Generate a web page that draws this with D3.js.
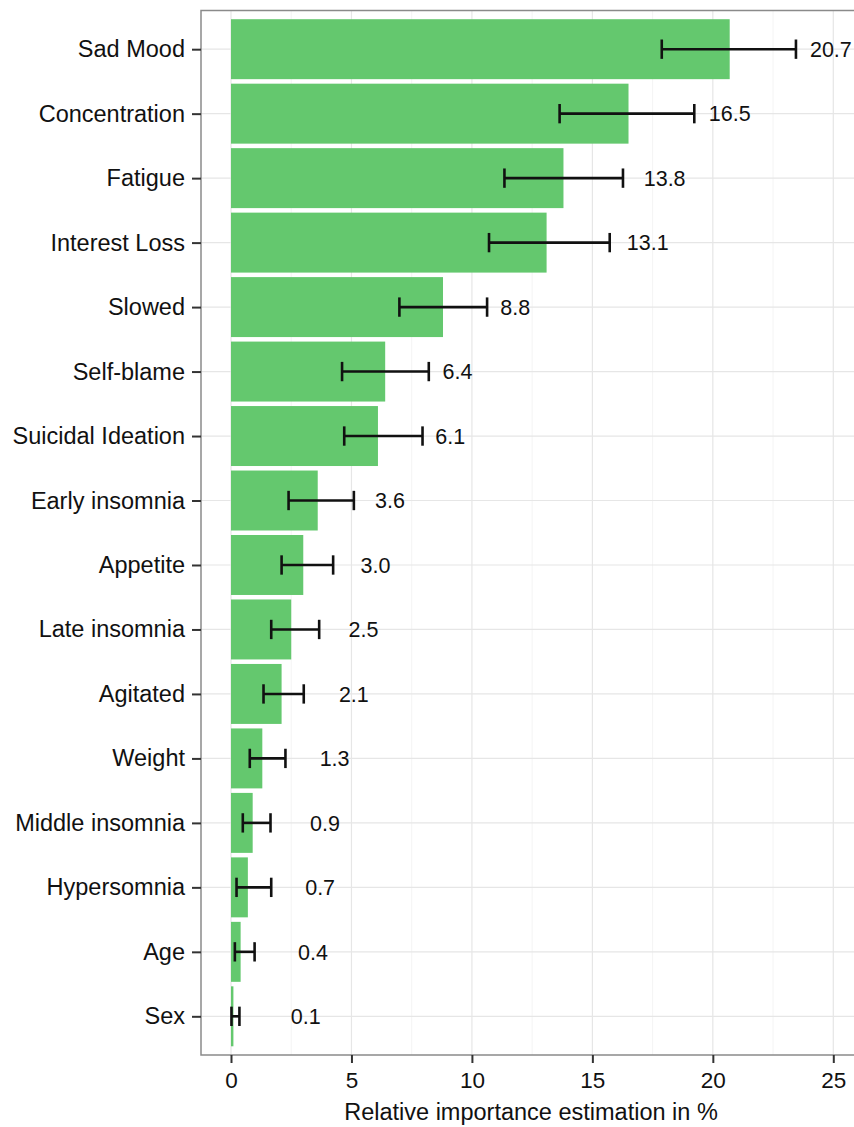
<!DOCTYPE html>
<html>
<head>
<meta charset="utf-8">
<script src="https://cdn.jsdelivr.net/npm/d3@7"></script>
<style>
  html, body { margin: 0; padding: 0; background: #fff; }
  svg { display: block; font-family: "Liberation Sans", Arial, sans-serif; }
</style>
</head>
<body>
<script>
// data
const categories = ['Sad Mood', 'Concentration', 'Fatigue', 'Interest Loss', 'Slowed', 'Self-blame',
  'Suicidal Ideation', 'Early insomnia', 'Appetite', 'Late insomnia', 'Agitated', 'Weight',
  'Middle insomnia', 'Hypersomnia', 'Age', 'Sex'];
const importance = [20.7, 16.5, 13.8, 13.1, 8.8, 6.4, 6.1, 3.6, 3.0, 2.5, 2.1, 1.3, 0.9, 0.7, 0.4, 0.1];
const lower = [17.88, 13.64, 11.35, 10.71, 6.99, 4.61, 4.70, 2.39, 2.10, 1.67, 1.35, 0.78, 0.49, 0.23, 0.16, 0.02];
const upper = [23.45, 19.23, 16.27, 15.72, 10.63, 8.21, 7.95, 5.10, 4.24, 3.66, 3.02, 2.26, 1.64, 1.67, 0.98, 0.35];
const xTicks = [0, 5, 10, 15, 20, 25];
const xMinor = [2.5, 7.5, 12.5, 17.5, 22.5];
const xTitle = 'Relative importance estimation in %';

const W = 854, H = 1127;
const panel = { left: 201, right: 861, top: 10.5, bottom: 1055 };

const rows = categories.map((c, i) => ({
  name: c, value: importance[i], lo: lower[i], hi: upper[i]
}));

// label sits 3 units right of the bar (a bit further for two-digit numbers)
const labelX = d => d.value + (d.value >= 10 ? 4.2 : 3);

const x = d3.scaleLinear().domain([-1.245, 26.15]).range([panel.left, panel.right]);
const y = d3.scalePoint().domain(categories).range([panel.top, panel.bottom]).padding(0.6);
const step = y.step();

const svg = d3.select('body').append('svg').attr('width', W).attr('height', H);

// grid
const grid = svg.append('g');
grid.selectAll('.minor').data(xMinor).enter().append('line')
  .attr('x1', d => x(d)).attr('x2', d => x(d))
  .attr('y1', panel.top).attr('y2', panel.bottom)
  .attr('stroke', '#f4f4f4').attr('stroke-width', 1);
grid.selectAll('.major').data(xTicks).enter().append('line')
  .attr('x1', d => x(d)).attr('x2', d => x(d))
  .attr('y1', panel.top).attr('y2', panel.bottom)
  .attr('stroke', '#e6e6e6').attr('stroke-width', 1.2);
grid.selectAll('.hmajor').data(categories).enter().append('line')
  .attr('x1', panel.left).attr('x2', panel.right)
  .attr('y1', d => y(d)).attr('y2', d => y(d))
  .attr('stroke', '#e6e6e6').attr('stroke-width', 1.2);

// bars
svg.append('g').selectAll('rect').data(rows).enter().append('rect')
  .attr('x', x(0))
  .attr('y', d => y(d.name) - step * 0.465)
  .attr('width', d => x(d.value) - x(0))
  .attr('height', step * 0.93)
  .attr('fill', '#64c86e');

// error bars
const eb = svg.append('g').attr('stroke', '#111').attr('stroke-width', 2.6).attr('fill', 'none');
const cap = step * 0.15;
rows.forEach(d => {
  const cy = y(d.name);
  eb.append('line').attr('x1', x(d.lo)).attr('x2', x(d.hi)).attr('y1', cy).attr('y2', cy);
  eb.append('line').attr('x1', x(d.lo)).attr('x2', x(d.lo)).attr('y1', cy - cap).attr('y2', cy + cap);
  eb.append('line').attr('x1', x(d.hi)).attr('x2', x(d.hi)).attr('y1', cy - cap).attr('y2', cy + cap);
});

// value labels
svg.append('g').selectAll('text').data(rows).enter().append('text')
  .attr('x', d => x(labelX(d)))
  .attr('y', d => y(d.name))
  .attr('dy', '0.36em')
  .attr('text-anchor', 'middle')
  .attr('font-size', 21.5)
  .attr('fill', '#111')
  .text(d => d3.format('.1f')(d.value));

// panel border
svg.append('rect')
  .attr('x', panel.left).attr('y', panel.top)
  .attr('width', panel.right - panel.left).attr('height', panel.bottom - panel.top)
  .attr('fill', 'none').attr('stroke', '#8a8a8a').attr('stroke-width', 1.5);

// axes
const xAxis = svg.append('g')
  .attr('transform', `translate(0,${panel.bottom})`)
  .call(d3.axisBottom(x).tickValues(xTicks).tickSize(8).tickPadding(9).tickFormat(d3.format('d')));
xAxis.select('.domain').remove();
xAxis.selectAll('line').attr('stroke', '#333').attr('stroke-width', 2);
xAxis.selectAll('text').attr('font-size', 22.5).attr('fill', '#111')
  .attr('font-family', '"Liberation Sans", Arial, sans-serif');

const yAxis = svg.append('g')
  .attr('transform', `translate(${panel.left},0)`)
  .call(d3.axisLeft(y).tickSize(9).tickPadding(7));
yAxis.select('.domain').remove();
yAxis.selectAll('line').attr('stroke', '#333').attr('stroke-width', 2);
yAxis.selectAll('text').attr('font-size', 23.5).attr('fill', '#111')
  .attr('font-family', '"Liberation Sans", Arial, sans-serif');

// axis title
svg.append('text')
  .attr('x', (panel.left + panel.right) / 2)
  .attr('y', 1120)
  .attr('text-anchor', 'middle')
  .attr('font-size', 23.5)
  .attr('fill', '#111')
  .text(xTitle);
</script>
</body>
</html>
